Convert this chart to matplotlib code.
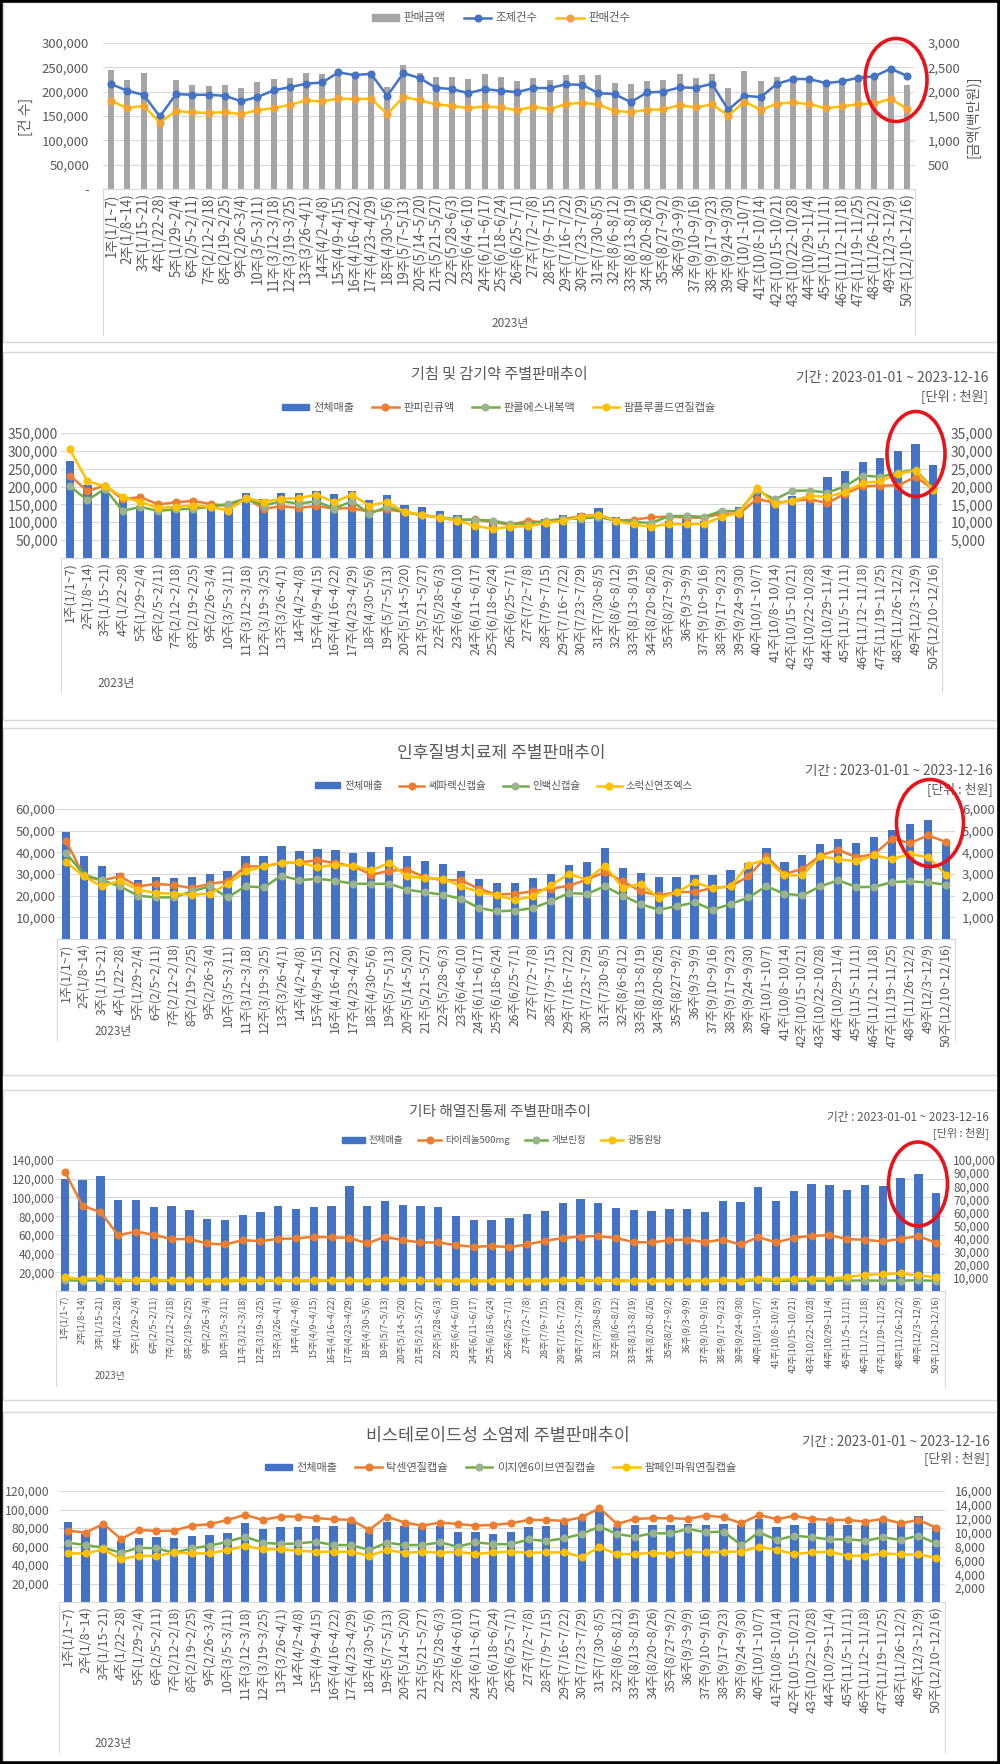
import matplotlib
matplotlib.use('Agg')
import matplotlib.pyplot as plt
from matplotlib.patches import Ellipse, Rectangle, Patch
from matplotlib.lines import Line2D
import numpy as np

plt.rcParams['font.family'] = ['Noto Sans CJK KR', 'DejaVu Sans']

W, H = 1000, 1764

weeks = ['1주(1/1~7)', '2주(1/8~14)', '3주(1/15~21)', '4주(1/22~28)', '5주(1/29~2/4)',
         '6주(2/5~2/11)', '7주(2/12~2/18)', '8주(2/19~2/25)', '9주(2/26~3/4)', '10주(3/5~3/11)',
         '11주(3/12~3/18)', '12주(3/19~3/25)', '13주(3/26~4/1)', '14주(4/2~4/8)', '15주(4/9~4/15)',
         '16주(4/16~4/22)', '17주(4/23~4/29)', '18주(4/30~5/6)', '19주(5/7~5/13)', '20주(5/14~5/20)',
         '21주(5/21~5/27)', '22주(5/28~6/3)', '23주(6/4~6/10)', '24주(6/11~6/17)', '25주(6/18~6/24)',
         '26주(6/25~7/1)', '27주(7/2~7/8)', '28주(7/9~7/15)', '29주(7/16~7/22)', '30주(7/23~7/29)',
         '31주(7/30~8/5)', '32주(8/6~8/12)', '33주(8/13~8/19)', '34주(8/20~8/26)', '35주(8/27~9/2)',
         '36주(9/3~9/9)', '37주(9/10~9/16)', '38주(9/17~9/23)', '39주(9/24~9/30)', '40주(10/1~10/7)',
         '41주(10/8~10/14)', '42주(10/15~10/21)', '43주(10/22~10/28)', '44주(10/29~11/4)', '45주(11/5~11/11)',
         '46주(11/12~11/18)', '47주(11/19~11/25)', '48주(11/26~12/2)', '49주(12/3~12/9)', '50주(12/10~12/16)']
year_label = '2023년'
period = '기간 : 2023-01-01 ~ 2023-12-16'
unit = '[단위 : 천원]'

# panel 1 - 판매금액(백만원, 우축) / 조제건수, 판매건수 (좌축)
p1_amount = [2440, 2245, 2375, 1480, 2238, 2135, 2121, 2128, 2080, 2190, 2259, 2286, 2389, 2362, 2420,
             2380, 2380, 2094, 2540, 2375, 2293, 2307, 2265, 2355, 2293, 2224, 2286, 2238, 2341, 2334,
             2334, 2169, 2149, 2210, 2245, 2362, 2272, 2362, 2066, 2430, 2210, 2293, 2250, 2270, 2220,
             2240, 2300, 2330, 2460, 2128]
p1_rx = [215600, 201800, 193600, 149000, 195000, 193600, 193600, 191500, 180500, 188800, 202500, 209400,
         216200, 219000, 239600, 234100, 236800, 191500, 238200, 227900, 208000, 205300, 197000, 205300,
         201800, 199100, 207400, 207400, 214900, 214200, 197000, 195000, 178500, 198400, 199800, 208700,
         208000, 216200, 162700, 191500, 188800, 216200, 225900, 225900, 217600, 221000, 228600, 231400,
         247100, 232700]
p1_sales = [181200, 166100, 170900, 136600, 160600, 157200, 156500, 157900, 153800, 162000, 166100, 173000,
            181900, 179900, 186000, 184700, 185400, 154500, 188800, 182600, 173700, 170900, 166100, 169600,
            167500, 162000, 168900, 164100, 174400, 177100, 173700, 160600, 157900, 162700, 163400, 172300,
            167500, 173700, 151000, 179200, 162700, 175100, 177800, 174400, 166100, 169600, 174400, 175700,
            185400, 164800]
p1_names = ['판매금액', '조제건수', '판매건수']

# panel 2 - 기침 및 감기약
p2_title = '기침 및 감기약 주별판매추이'
p2_names = ['전체매출', '판피린큐액', '판콜에스내복액', '팜플루콜드연질캡슐']
p2_total = [270700, 203500, 192000, 165000, 145000, 138000, 140000, 143000, 145000, 138000, 182000, 166100,
            182000, 182000, 188500, 180100, 189000, 163300, 177300, 149300, 142800, 132500, 121300, 105000,
            100000, 93000, 90000, 110100, 121300, 126000, 140000, 115700, 105000, 100800, 105000, 110000,
            105000, 134000, 142800, 185000, 166000, 175000, 180000, 226800, 242600, 268700, 280000, 299600,
            320000, 261300]
p2_panpyrin = [23100, 18700, 20300, 16400, 17100, 15000, 15600, 16000, 15100, 14600, 16800, 13800, 14500,
               14000, 14600, 13800, 14000, 12900, 13600, 12900, 12000, 11300, 10500, 10800, 10100, 9300,
               10400, 9900, 10800, 11800, 12100, 10500, 10700, 11400, 11600, 11300, 11300, 12400, 12400,
               16600, 15400, 16000, 16400, 15400, 18000, 20100, 20300, 20300, 22700, 19300]
p2_pancol = [20100, 16200, 19400, 13200, 14300, 13200, 13600, 13800, 14300, 15200, 16600, 14700, 15900,
             15200, 15900, 13800, 15900, 12400, 14300, 12900, 12000, 11400, 10800, 10700, 10500, 9500,
             9600, 10400, 11000, 11000, 11500, 10400, 10100, 9800, 11700, 11800, 11500, 13200, 13100,
             19000, 16400, 18800, 18900, 18300, 20100, 23100, 22700, 23900, 24700, 19400]
p2_pamflu = [30400, 21500, 20100, 17100, 15700, 14000, 14300, 14700, 14300, 13300, 16800, 15700, 16600,
             16800, 17700, 15700, 17700, 14700, 15700, 12900, 12100, 11300, 10500, 9000, 8200, 8700,
             8900, 9800, 10500, 11500, 12100, 10400, 9400, 8700, 9600, 9400, 9600, 11500, 12700,
             19600, 15200, 16000, 17400, 17100, 18500, 21000, 21500, 23600, 24500, 19100]

# panel 3 - 인후질병치료제
p3_title = '인후질병치료제 주별판매추이'
p3_names = ['전체매출', '쎄파렉신캡슐', '인백신캡슐', '소럭신연조엑스']
p3_total = [49200, 38100, 33500, 30500, 27400, 28500, 28000, 28500, 30100, 31400, 38300, 38300, 42900,
            40400, 41700, 40900, 39500, 40000, 42400, 38500, 35800, 34600, 31200, 27700, 25800, 25800,
            28100, 30000, 34000, 35500, 42000, 32800, 30500, 28500, 28500, 29700, 29400, 31700, 35100,
            41800, 35400, 38900, 43800, 46100, 44300, 46900, 50400, 52900, 55100, 44300]
p3_cepha = [4540, 2890, 2710, 2890, 2430, 2540, 2490, 2350, 2550, 2660, 3350, 3350, 3510, 3540, 3630,
            3510, 3350, 2970, 3150, 3200, 2850, 2710, 2710, 2310, 2050, 2090, 2200, 2320, 2460, 2740,
            3090, 2660, 2200, 2010, 2170, 2170, 2350, 2430, 2890, 3810, 3000, 3230, 3850, 4120, 3770,
            3920, 4630, 4430, 4780, 4480]
p3_inbaek = [3970, 2970, 2710, 2430, 2000, 1920, 1920, 2200, 2430, 1920, 2430, 2380, 2920, 2710, 2780,
             2690, 2550, 2550, 2550, 2280, 2150, 2050, 1850, 1430, 1280, 1310, 1430, 1740, 2120, 2080,
             2430, 2000, 1610, 1350, 1510, 1690, 1350, 1610, 1920, 2430, 2090, 2010, 2430, 2710, 2400,
             2400, 2630, 2660, 2610, 2510]
p3_sorak = [3550, 2890, 2430, 2690, 2280, 2120, 2090, 2050, 2090, 2540, 3120, 3350, 3510, 3540, 3320,
            3430, 3380, 3170, 3510, 2890, 2810, 2780, 2430, 2170, 2010, 1810, 1970, 2480, 3000, 2740,
            3380, 2350, 2550, 1890, 2150, 2610, 2350, 2430, 3430, 3660, 2940, 2940, 3810, 3690, 3580,
            3860, 3690, 3920, 3780, 2970]

# panel 4 - 기타 해열진통제
p4_title = '기타 해열진통제 주별판매추이'
p4_names = ['전체매출', '타이레놀500mg', '게보린정', '광동원탕']
p4_total = [119600, 118200, 122500, 97300, 97300, 89500, 91200, 86300, 77400, 76300, 81700, 84800, 90500,
            87700, 89500, 90500, 111800, 90900, 96200, 91900, 90900, 90200, 79900, 76300, 76300, 77700,
            82300, 85500, 93700, 98300, 93700, 88400, 86600, 85900, 87300, 87300, 84800, 96600, 95500,
            110800, 95900, 106900, 114700, 113200, 107900, 112900, 112200, 121100, 124600, 105100]
p4_tylenol = [90900, 65000, 60200, 42600, 45400, 42900, 39600, 39600, 36300, 35500, 38800, 38100, 39800,
              40100, 41400, 40900, 40600, 36300, 41400, 38800, 37100, 37100, 35000, 33800, 34300, 33500,
              35500, 38300, 40400, 41600, 41900, 40400, 37300, 37100, 38800, 39300, 37300, 39300, 35500,
              41100, 37100, 40600, 42100, 42600, 39600, 39100, 37800, 39800, 41900, 36800]
p4_geborin = [8200, 7900, 8300, 7600, 7800, 7700, 7700, 7600, 7500, 7600, 7800, 7700, 7900, 7600, 7700,
              7800, 7700, 7600, 7800, 7700, 7700, 7600, 7500, 7600, 7600, 7500, 7600, 7700, 7800, 7800,
              7900, 7700, 7600, 7600, 7700, 7700, 7600, 7800, 7600, 8300, 7700, 7800, 7900, 7900, 8000,
              8000, 7900, 8000, 8100, 7800]
p4_wontang = [10400, 9100, 9600, 8400, 8300, 8200, 8200, 8100, 8000, 8000, 8200, 8100, 8300, 8100, 8100,
              8200, 8200, 8000, 8200, 8100, 8100, 8000, 7900, 7900, 7900, 7800, 7900, 8000, 8100, 8100,
              8200, 8000, 7900, 7900, 8000, 8000, 7900, 8100, 8000, 9400, 8600, 9000, 9400, 9400, 10700,
              12400, 12900, 13400, 11900, 10400]

# panel 5 - 비스테로이드성 소염제
p5_title = '비스테로이드성 소염제 주별판매추이'
p5_names = ['전체매출', '탁센연질캡슐', '이지엔6이브연질캡슐', '팜페인파워연질캡슐']
p5_total = [86900, 74000, 80700, 66200, 69500, 69900, 68800, 71300, 72400, 74900, 85100, 78900, 81500,
            80700, 82500, 82200, 86900, 76000, 86900, 82500, 81500, 82500, 76000, 75300, 73100, 75300,
            81500, 82500, 86200, 90500, 99600, 81500, 83300, 83300, 83300, 84400, 83300, 84400, 83300,
            89400, 80700, 83300, 85100, 86900, 83300, 83300, 88700, 85100, 93000, 81500]
p5_taksen = [10290, 10000, 11250, 9080, 10390, 10240, 10290, 11010, 11210, 11830, 12560, 11830, 12320,
             12320, 12080, 11930, 11830, 10390, 12320, 11450, 11010, 11450, 11250, 11010, 11110, 11350,
             11830, 11830, 11690, 12220, 13520, 11250, 11980, 12080, 12080, 11980, 12460, 12220, 11350,
             12560, 11930, 12410, 11980, 11830, 11830, 11590, 11980, 11350, 11830, 10720]
p5_easyn = [8550, 8210, 7820, 7100, 7820, 7730, 7100, 7730, 8110, 8690, 9420, 8550, 8360, 8450, 8690,
            8210, 8210, 7490, 8550, 8210, 8210, 8600, 7970, 8600, 8360, 8310, 9030, 8790, 9180, 9800,
            10870, 9800, 9420, 9900, 9900, 10530, 10050, 10140, 8210, 10050, 8940, 9560, 9320, 9030,
            9030, 8840, 9320, 8940, 9560, 8450]
p5_pampain = [7000, 7000, 7580, 6180, 6670, 6620, 7150, 7000, 7000, 7490, 8070, 7630, 7580, 7390, 7250,
              7250, 7250, 6670, 7490, 7100, 7250, 7100, 7250, 6910, 7150, 7250, 7100, 7150, 7150, 6520,
              7870, 6910, 6910, 7100, 6910, 7250, 7150, 7250, 7250, 7970, 7490, 6910, 7150, 7250, 6670,
              6670, 7000, 6860, 6860, 6380]

TXT = '#595959'
GRID = '#D9D9D9'
BLUE = '#4472C4'
ORANGE = '#ED7D31'
GOLD = '#FFC000'
GREEN = '#70AD47'
BAR_GRAY = '#A5A5A5'

fig = plt.figure(figsize=(W / 100, H / 100), dpi=100)


def fx(x):
    return x / W


def fy(y):
    return 1 - y / H


def fmt_ticks(ticks, zero=''):
    return [zero if v == 0 else f'{v:,}' for v in ticks]


def panel(box, bars, bar_color, bar_w, lines, bar_ticks, line_ticks, bars_right=False,
          ysize=9.5, xsize=9, lpad=2, rpad=6, bar_zero='', line_zero='', drop=140):
    l, t, r, b = box
    ax = fig.add_axes([fx(l), fy(b), (r - l) / W, (b - t) / H])
    ax2 = ax.twinx()
    x = np.arange(len(weeks))
    ax.bar(x, bars, width=bar_w, color=bar_color, zorder=2)
    for vals, color, mcolor in lines:
        ax2.plot(x, vals, color=color, lw=1.8, marker='o', ms=4.8, mfc=mcolor, mec=mcolor, zorder=3)
    ax.set_xlim(-0.5, len(weeks) - 0.5)
    ax.set_ylim(bar_ticks[0], bar_ticks[-1])
    ax2.set_ylim(line_ticks[0], line_ticks[-1])
    ax.set_yticks(bar_ticks)
    ax.set_yticklabels(fmt_ticks(bar_ticks, bar_zero))
    ax2.set_yticks(line_ticks)
    ax2.set_yticklabels(fmt_ticks(line_ticks, line_zero))
    if bars_right:
        ax.yaxis.tick_right()
        ax2.yaxis.tick_left()
        ax.tick_params(axis='y', pad=rpad)
        ax2.tick_params(axis='y', pad=lpad)
    else:
        ax.tick_params(axis='y', pad=lpad)
        ax2.tick_params(axis='y', pad=rpad)
    for a in (ax, ax2):
        a.tick_params(axis='y', length=0, labelsize=ysize, labelcolor=TXT)
        for s in a.spines.values():
            s.set_visible(False)
    ax.spines['bottom'].set_visible(True)
    ax.spines['bottom'].set_color(GRID)
    ax.yaxis.grid(True, color=GRID, lw=0.8)
    ax.set_axisbelow(True)
    ax.set_xticks(x)
    ax.set_xticklabels(weeks, rotation=90, fontsize=xsize, color=TXT)
    ax.tick_params(axis='x', length=0, pad=3)
    for xe in (l, r):
        fig.add_artist(Line2D([fx(xe), fx(xe)], [fy(b), fy(b + drop)], color=GRID, lw=0.8))
    return ax, ax2


def legend(ax, names, bar_color, line_specs, cx, cy, size):
    handles = [Patch(color=bar_color)]
    for color, mcolor in line_specs:
        handles.append(Line2D([], [], color=color, lw=1.8, marker='o', ms=4.8, mfc=mcolor, mec=mcolor))
    ax.legend(handles, names, loc='center', bbox_to_anchor=(fx(cx), fy(cy)), bbox_transform=fig.transFigure,
              ncol=len(names), frameon=False, fontsize=size, labelcolor=TXT, handlelength=2.4,
              handleheight=0.55, handletextpad=0.4, columnspacing=1.6)


def headings(title, tsize, tcx, tcy, px, py1, py2, psize):
    fig.text(fx(tcx), fy(tcy), title, ha='center', va='center', fontsize=tsize, color=TXT)
    fig.text(fx(px), fy(py1), period, ha='right', va='center', fontsize=psize, color=TXT)
    fig.text(fx(px), fy(py2), unit, ha='right', va='center', fontsize=psize * 0.95, color=TXT)


def ring(cx, cy, w, h):
    fig.add_artist(Ellipse((fx(cx), fy(cy)), w / W, h / H, transform=fig.transFigure,
                           fill=False, ec='#E8141B', lw=2.6, zorder=10))


# panel frames
for top, bottom in [(2, 342), (352, 720), (728, 1075), (1090, 1400), (1412, 1762)]:
    fig.add_artist(Rectangle((fx(3), fy(bottom)), fx(994), (bottom - top) / H, transform=fig.transFigure,
                             fill=False, ec=GRID, lw=1))

# ---- panel 1
p1_lines = [(p1_rx, BLUE, BLUE), (p1_sales, GOLD, '#F4A233')]
ax, ax2 = panel((103, 43, 915, 189), p1_amount, BAR_GRAY, 0.37, p1_lines,
                list(range(0, 3001, 500)), list(range(0, 300001, 50000)), bars_right=True,
                ysize=9.5, xsize=9.6, lpad=10, rpad=9, line_zero='-', drop=146)
legend(ax2, p1_names, BAR_GRAY, [(BLUE, BLUE), (GOLD, '#F4A233')], 501, 18, 8.2)
fig.text(fx(25), fy(117), '[건 수]', rotation=90, ha='center', va='center', fontsize=10, color=TXT)
fig.text(fx(973), fy(117), '[금액(백만원)]', rotation=90, ha='center', va='center', fontsize=10, color=TXT)
fig.text(fx(510), fy(323), year_label, ha='center', va='center', fontsize=8.5, color=TXT)
ring(896, 80, 62, 83)

GREEN_M = '#9DB38F'
std_specs = [(ORANGE, ORANGE), (GREEN, GREEN_M), (GOLD, GOLD)]

# ---- panel 2
ax, ax2 = panel((61, 433, 942, 558), p2_total, BLUE, 0.47,
                [(p2_panpyrin, ORANGE, ORANGE), (p2_pancol, GREEN, GREEN_M), (p2_pamflu, GOLD, GOLD)],
                list(range(0, 350001, 50000)), list(range(0, 35001, 5000)),
                ysize=10, xsize=9, lpad=2, rpad=6, drop=134)
legend(ax2, p2_names, BLUE, std_specs, 499, 408, 8)
headings(p2_title, 10.9, 499, 374, 988, 378, 397, 10)
fig.text(fx(116), fy(683), year_label, ha='center', va='center', fontsize=8.5, color=TXT)
ring(916, 454, 58, 85)

# ---- panel 3
ax, ax2 = panel((57, 809, 955, 939), p3_total, BLUE, 0.46,
                [(p3_cepha, ORANGE, ORANGE), (p3_inbaek, GREEN, GREEN_M), (p3_sorak, GOLD, GOLD)],
                list(range(0, 60001, 10000)), list(range(0, 6001, 1000)),
                ysize=9.5, xsize=8.8, lpad=1, rpad=5, drop=101)
legend(ax2, p3_names, BLUE, std_specs, 504, 786, 7.5)
headings(p3_title, 12.3, 501, 753, 993, 771, 790, 9.8)
fig.text(fx(113), fy(1032), year_label, ha='center', va='center', fontsize=8.5, color=TXT)
ring(930, 823, 67, 87)

# ---- panel 4
ax, ax2 = panel((56, 1160, 945, 1291), p4_total, BLUE, 0.47,
                [(p4_tylenol, ORANGE, ORANGE), (p4_geborin, GREEN, GREEN_M), (p4_wontang, GOLD, GOLD)],
                list(range(0, 140001, 20000)), list(range(0, 100001, 10000)),
                ysize=8.5, xsize=6.6, lpad=1, rpad=6, drop=95)
legend(ax2, p4_names, BLUE, std_specs, 502, 1140, 6.8)
headings(p4_title, 10.6, 500, 1112, 989, 1117, 1133, 8.4)
fig.text(fx(110), fy(1376), year_label, ha='center', va='center', fontsize=7, color=TXT)
ring(918, 1184, 59, 84)

# ---- panel 5
ax, ax2 = panel((59, 1491, 945, 1602), p5_total, BLUE, 0.47,
                [(p5_taksen, ORANGE, ORANGE), (p5_easyn, GREEN, GREEN_M), (p5_pampain, GOLD, GOLD)],
                list(range(0, 120001, 20000)), list(range(0, 16001, 2000)),
                ysize=8.8, xsize=9, lpad=7, rpad=7, drop=150)
legend(ax2, p5_names, BLUE, std_specs, 501, 1468, 8)
headings(p5_title, 12.5, 498, 1436, 990, 1442, 1459, 9.8)
fig.text(fx(113), fy(1743), year_label, ha='center', va='center', fontsize=8.5, color=TXT)

fig.add_artist(Rectangle((0, 0), 1, 1, transform=fig.transFigure, fill=False, ec='black', lw=4))

fig.savefig('out.png', dpi=100)
